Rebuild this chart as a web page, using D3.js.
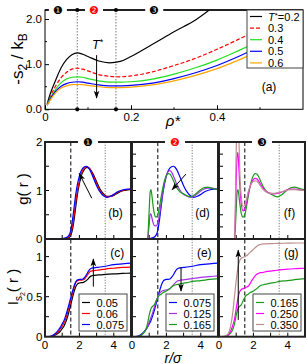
<!DOCTYPE html>
<html><head><meta charset="utf-8">
<script src="https://cdn.jsdelivr.net/npm/d3@7"></script>
<style>body{margin:0;background:#fff}svg{display:block}text{font-family:"Liberation Sans",Arial,sans-serif;fill:#000}</style>
</head><body><svg id="c" width="307" height="364"></svg>
<script>
// ---------- panel (a): -s2/kB vs rho* ----------
const rho = [0.005,0.0125,0.025,0.0375,0.05,0.0625,0.075,0.0875,0.1,0.125,0.15,0.175,0.2,0.25,0.3,0.35,0.4,0.45,0.5,0.55,0.6];
const sT02 = [0.12,0.35,0.65,0.92,1.10,1.21,1.25,1.22,1.17,1.07,1.03,1.06,1.17,1.44,1.72,1.98,2.33,2.7,3.1,3.5,3.9];
const sT03 = [0.10,0.28,0.52,0.70,0.82,0.89,0.91,0.89,0.85,0.77,0.73,0.72,0.74,0.83,0.97,1.13,1.33,1.55,1.78,2.0,2.25];
const sT04 = [0.10,0.25,0.45,0.59,0.67,0.71,0.72,0.71,0.68,0.63,0.60,0.60,0.61,0.67,0.78,0.92,1.09,1.30,1.52,1.75,2.0];
const sT05 = [0.09,0.23,0.40,0.51,0.57,0.60,0.61,0.60,0.58,0.54,0.52,0.52,0.53,0.58,0.68,0.81,0.97,1.17,1.39,1.62,1.86];
const sT06 = [0.09,0.21,0.37,0.47,0.52,0.545,0.55,0.545,0.53,0.50,0.48,0.48,0.49,0.54,0.63,0.75,0.90,1.09,1.30,1.53,1.77];
const tLabels = ["T*=0.2","0.3","0.4","0.5","0.6"];
const regionRho = [0.075, 0.165];
const regionMarks = ["❶","❷","❸"];

// ---------- g(r) ----------
const rG = [0,0.5,0.8,0.9,1.0,1.05,1.1,1.15,1.2,1.3,1.4,1.5,1.6,1.7,1.8,1.9,2.0,2.1,2.2,2.3,2.4,2.5,2.6,2.8,3.0,3.2,3.4,3.6,3.8,4.0,4.2,4.4,4.6,4.8,5.0];
const g050 = [0,0,0,0,0.002,0.003,0.004,0.005,0.007,0.012,0.03,0.08,0.2,0.42,0.7,0.95,1.14,1.29,1.38,1.44,1.47,1.47,1.45,1.34,1.18,1.03,0.93,0.88,0.88,0.9,0.94,0.98,1.0,1.01,1.02];
const g060 = [0,0,0,0,0.004,0.005,0.006,0.008,0.01,0.02,0.05,0.12,0.27,0.52,0.8,1.03,1.2,1.33,1.42,1.47,1.49,1.48,1.45,1.31,1.14,1.0,0.91,0.87,0.88,0.91,0.96,0.99,1.01,1.02,1.03];
const g075 = [0,0,0,0.005,0.01,0.012,0.015,0.02,0.025,0.04,0.08,0.18,0.4,0.68,0.95,1.15,1.3,1.4,1.46,1.49,1.5,1.48,1.43,1.27,1.1,0.97,0.89,0.86,0.88,0.92,0.97,1.0,1.02,1.03,1.03];
const g125 = [0,0,0,0,0.3,0.5,0.52,0.45,0.37,0.28,0.27,0.33,0.5,0.75,0.98,1.18,1.31,1.39,1.41,1.38,1.31,1.22,1.13,1.0,0.92,0.88,0.86,0.88,0.93,0.99,1.03,1.05,1.05,1.04,1.03];
const g165 = [0,0,0,0,0.6,0.95,1.02,0.92,0.76,0.52,0.45,0.5,0.67,0.88,1.07,1.22,1.31,1.35,1.34,1.29,1.21,1.13,1.06,0.97,0.93,0.89,0.87,0.9,0.96,1.02,1.06,1.07,1.05,1.03,1.02];
const g250 = [0,0,0,0,1.2,1.7,1.78,1.5,1.15,0.72,0.58,0.62,0.76,0.93,1.07,1.17,1.23,1.25,1.24,1.2,1.14,1.08,1.03,0.97,0.94,0.93,0.94,0.96,0.99,1.02,1.03,1.03,1.02,1.01,1.0];
const g350 = [0,0,0,0,1.8,2.6,2.7,2.2,1.5,0.85,0.67,0.7,0.82,0.97,1.08,1.15,1.19,1.2,1.19,1.15,1.1,1.05,1.01,0.96,0.94,0.94,0.95,0.97,0.99,1.01,1.02,1.02,1.01,1.0,1.0];

// ---------- I_s2(r) ----------
const rI = [0,0.2,0.4,0.6,0.8,0.9,1.0,1.1,1.2,1.3,1.4,1.5,1.6,1.7,1.8,1.9,2.0,2.1,2.2,2.3,2.4,2.5,2.6,2.7,2.8,3.0,3.2,3.5,4.0,4.5,5.0];
const i050 = [0,0,0.003,0.02,0.05,0.07,0.1,0.13,0.18,0.24,0.32,0.4,0.49,0.57,0.63,0.66,0.67,0.675,0.675,0.685,0.7,0.72,0.745,0.76,0.765,0.77,0.772,0.778,0.785,0.79,0.795];
const i060 = [0,0,0.005,0.03,0.07,0.1,0.13,0.17,0.22,0.29,0.37,0.45,0.54,0.62,0.68,0.7,0.705,0.705,0.71,0.72,0.75,0.78,0.81,0.82,0.825,0.83,0.835,0.845,0.855,0.865,0.87];
const i075 = [0,0,0.01,0.04,0.09,0.12,0.16,0.2,0.26,0.33,0.41,0.49,0.57,0.64,0.69,0.71,0.715,0.715,0.72,0.74,0.77,0.81,0.84,0.855,0.86,0.865,0.87,0.88,0.9,0.91,0.92];
const i125 = [0,0,0.005,0.03,0.08,0.12,0.18,0.24,0.3,0.37,0.44,0.5,0.54,0.565,0.575,0.58,0.585,0.59,0.6,0.62,0.645,0.67,0.69,0.7,0.705,0.71,0.715,0.725,0.74,0.75,0.76];
const i165 = [0,0,0.005,0.03,0.09,0.16,0.27,0.35,0.38,0.4,0.45,0.49,0.52,0.53,0.55,0.56,0.57,0.585,0.6,0.62,0.635,0.645,0.65,0.655,0.66,0.67,0.675,0.69,0.7,0.715,0.725];
const i250 = [0,0,0.005,0.04,0.14,0.22,0.35,0.48,0.56,0.59,0.6,0.61,0.62,0.63,0.66,0.7,0.73,0.76,0.78,0.79,0.8,0.8,0.805,0.81,0.815,0.82,0.825,0.835,0.845,0.85,0.855];
const i350 = [0,0,0.01,0.07,0.3,0.5,0.7,0.86,0.95,0.98,0.99,1.0,1.01,1.03,1.05,1.07,1.09,1.11,1.13,1.145,1.15,1.155,1.16,1.16,1.16,1.162,1.164,1.166,1.168,1.17,1.17];
const densLabels = [["0.05","0.06","0.075"],["0.075","0.125","0.165"],["0.165","0.250","0.350"]];
const panelLetters = [["(b)","(c)"],["(d)","(e)"],["(f)","(g)"]];
const rTicks = [0,1,2,3,4,5];
const rTickLabels = [0,2,4];

const svg = d3.select("#c");
const defs = svg.append("defs");
defs.append("marker").attr("id","ah").attr("viewBox","0 0 10 10").attr("refX",9).attr("refY",5)
  .attr("markerWidth",8).attr("markerHeight",8).attr("markerUnits","userSpaceOnUse").attr("orient","auto")
  .append("path").attr("d","M0,1.5 L10,5 L0,8.5 L2.5,5 z").attr("fill","#000");
function arrow(g,x1,y1,x2,y2){
  g.append("line").attr("x1",x1).attr("y1",y1).attr("x2",x2).attr("y2",y2)
   .attr("stroke","#000").attr("stroke-width",1).attr("marker-end","url(#ah)");
}
function clip(id,x,y,w,h){defs.append("clipPath").attr("id",id).append("rect").attr("x",x).attr("y",y).attr("width",w).attr("height",h);}

// ================= panel (a) =================
const ax = d3.scaleLinear().domain([0,0.6]).range([45,303]);
const ay = d3.scaleLinear().domain([0,2.2]).range([109.3,10]);
clip("ca",45,10,258,99.3);
const pa = svg.append("g");
regionRho.forEach(v=>{
  pa.append("line").attr("x1",ax(v)).attr("x2",ax(v)).attr("y1",ay(2.2)).attr("y2",ay(0))
    .attr("stroke","#777").attr("stroke-width",1).attr("stroke-dasharray","1.5,1.5");
});
const sCols = ["#000","#ff0000","#22e022","#0000ff","#ffa500"];
const sData = [sT02,sT03,sT04,sT05,sT06];
const aline = d3.line().x(d=>ax(d[0])).y(d=>ay(d[1])).curve(d3.curveMonotoneX);
const curvesA = pa.append("g").attr("clip-path","url(#ca)");
sData.forEach((s,i)=>{
  curvesA.append("path").attr("d",aline(d3.zip(rho,s))).attr("fill","none").attr("stroke",sCols[i])
    .attr("stroke-width",1.2).attr("stroke-dasharray",i===1?"4,2":null);
});
pa.append("rect").attr("x",45).attr("y",10).attr("width",258).attr("height",99.3).attr("fill","none").attr("stroke","#000").attr("stroke-width",1);
pa.append("line").attr("x1",45).attr("x2",303).attr("y1",10).attr("y2",10).attr("stroke","#000").attr("stroke-width",1.6);
const axB = pa.append("g").attr("transform","translate(0,109.3)")
  .call(d3.axisBottom(ax).tickValues([0,0.2,0.4]).tickFormat(d3.format("")).tickSizeInner(-4).tickSizeOuter(0).tickPadding(3.5));
axB.select(".domain").remove();
axB.selectAll("text").attr("font-size",11.5).attr("font-family","Liberation Sans, Arial");
const axL = pa.append("g").attr("transform","translate(45,0)")
  .call(d3.axisLeft(ay).tickValues([0,1,2]).tickSizeInner(-4).tickSizeOuter(0).tickPadding(3));
axL.select(".domain").remove();
axL.selectAll("text").attr("font-size",11.5).attr("font-family","Liberation Sans, Arial");
[0.1,0.3,0.5].forEach(v=>pa.append("line").attr("x1",ax(v)).attr("x2",ax(v)).attr("y1",ay(0)).attr("y2",ay(0)-2).attr("stroke","#000"));
[0.5,1.5].forEach(v=>pa.append("line").attr("x1",45).attr("x2",47).attr("y1",ay(v)).attr("y2",ay(v)).attr("stroke","#000"));
regionRho.forEach(v=>{
  [ay(2.2),ay(0)].forEach(yy=>pa.append("circle").attr("cx",ax(v)).attr("cy",yy).attr("r",2.1).attr("fill","#000"));
});
const markX = [0.03,0.114,0.254];
markX.forEach((v,i)=>{
  pa.append("rect").attr("x",ax(v)-9).attr("y",6).attr("width",18).attr("height",8).attr("fill","#fff");
  pa.append("text").attr("x",ax(v)).attr("y",14).attr("text-anchor","middle").attr("font-size",11)
    .attr("font-family","DejaVu Sans").style("fill",i===1?"#ff0000":"#000").text(regionMarks[i]);
});
// legend
pa.append("rect").attr("x",247).attr("y",10).attr("width",56).attr("height",58).attr("fill","#fff").attr("stroke","#444").attr("stroke-width",1);
tLabels.forEach((t,i)=>{
  const yy = 16.5 + i*11.6;
  pa.append("line").attr("x1",250).attr("x2",262).attr("y1",yy).attr("y2",yy).attr("stroke",sCols[i]).attr("stroke-width",1.2)
    .attr("stroke-dasharray",i===1?"4,2":null);
  const tx = pa.append("text").attr("x",268).attr("y",yy+4).attr("font-size",11);
  if(i===0){
    tx.append("tspan").attr("font-style","italic").text("T");
    tx.append("tspan").attr("dy",-3).attr("font-size",8).text("*");
    tx.append("tspan").attr("dy",3).text("=0.2");
  } else tx.text(t);
});
pa.append("text").attr("x",269).attr("y",91).attr("text-anchor","middle").attr("font-size",12).text("(a)");
arrow(pa,ax(0.12),ay(1.2),ax(0.12),ay(0.25));
const tt = pa.append("text").attr("x",ax(0.12)+1).attr("y",ay(1.43)+4).attr("text-anchor","middle").attr("font-size",12.5);
tt.append("tspan").attr("font-style","italic").text("T");
tt.append("tspan").attr("dy",-4).attr("font-size",9).text("*");
const ylA = svg.append("text").attr("transform","translate(23,59) rotate(-90)").attr("text-anchor","middle").attr("font-size",17);
ylA.append("tspan").text("-s");
ylA.append("tspan").attr("dy",4).attr("font-size",12).text("2");
ylA.append("tspan").attr("dy",-4).text(" / k");
ylA.append("tspan").attr("dy",4).attr("font-size",12).text("B");
svg.append("text").attr("x",173).attr("y",126).attr("text-anchor","middle").attr("font-size",15).attr("font-style","italic").text("ρ*");

// ================= bottom panels =================
const colX = [45,132,219];
const colW = 86;
const gy = d3.scaleLinear().domain([0,2]).range([239,142]);
const iy = d3.scaleLinear().domain([0,1.22]).range([336.7,239]);
const gSets = [[[g050,"#000"],[g060,"#ff0000"],[g075,"#0000ff"]],
               [[g075,"#0000ff"],[g125,"#a630e6"],[g165,"#1c9a1c"]],
               [[g165,"#1c9a1c"],[g250,"#ff00ff"],[g350,"#bc8f8f"]]];
const iSets = [[[i050,"#000"],[i060,"#ff0000"],[i075,"#0000ff"]],
               [[i075,"#0000ff"],[i125,"#a630e6"],[i165,"#1c9a1c"]],
               [[i165,"#1c9a1c"],[i250,"#ff00ff"],[i350,"#bc8f8f"]]];
colX.forEach((x0,c)=>{
  const rx = d3.scaleLinear().domain([0,5]).range([x0,x0+colW]);
  const p = svg.append("g");
  p.append("line").attr("x1",rx(1.5)).attr("x2",rx(1.5)).attr("y1",142).attr("y2",336.7).attr("stroke","#000").attr("stroke-width",1).attr("stroke-dasharray","4,2.5");
  p.append("line").attr("x1",rx(3.5)).attr("x2",rx(3.5)).attr("y1",142).attr("y2",336.7).attr("stroke","#777").attr("stroke-width",1).attr("stroke-dasharray","1.2,1.5");
  clip("cg"+c,x0,142,colW,97); clip("ci"+c,x0,239,colW,97.7);
  const gl = d3.line().x(d=>rx(d[0])).y(d=>gy(d[1])).curve(d3.curveMonotoneX);
  const il = d3.line().x(d=>rx(d[0])).y(d=>iy(d[1])).curve(d3.curveMonotoneX);
  const cg = p.append("g").attr("clip-path","url(#cg"+c+")");
  gSets[c].forEach(([arr,col])=>cg.append("path").attr("d",gl(d3.zip(rG,arr))).attr("fill","none").attr("stroke",col).attr("stroke-width",1.2));
  const ci = p.append("g").attr("clip-path","url(#ci"+c+")");
  iSets[c].forEach(([arr,col])=>ci.append("path").attr("d",il(d3.zip(rI,arr))).attr("fill","none").attr("stroke",col).attr("stroke-width",1.2));
  rTicks.forEach(v=>{
    [239,336.7].forEach(yy=>p.append("line").attr("x1",rx(v)).attr("x2",rx(v)).attr("y1",yy).attr("y2",yy-4).attr("stroke","#000"));
  });
  const gStep = c===0?[0,0.5,1,1.5,2]:[0.25,0.5,0.75,1,1.25,1.5,1.75];
  gStep.forEach(v=>p.append("line").attr("x1",x0).attr("x2",x0+4).attr("y1",gy(v)).attr("y2",gy(v)).attr("stroke","#000"));
  [0.25,0.5,0.75,1].forEach(v=>p.append("line").attr("x1",x0).attr("x2",x0+4).attr("y1",iy(v)).attr("y2",iy(v)).attr("stroke","#000"));
  p.append("rect").attr("x",x0).attr("y",142).attr("width",colW).attr("height",194.7).attr("fill","none").attr("stroke","#222").attr("stroke-width",2);
  p.append("line").attr("x1",x0).attr("x2",x0+colW).attr("y1",239).attr("y2",239).attr("stroke","#222").attr("stroke-width",2);
  rTickLabels.forEach(v=>p.append("text").attr("x",rx(v)).attr("y",349).attr("text-anchor","middle").attr("font-size",11.5).text(v));
  p.append("rect").attr("x",x0+colW/2-10).attr("y",137).attr("width",20).attr("height",10).attr("fill","#fff");
  p.append("text").attr("x",x0+colW/2).attr("y",146).attr("text-anchor","middle").attr("font-size",11)
    .attr("font-family","DejaVu Sans").style("fill",c===1?"#ff0000":"#000").text(regionMarks[c]);
  p.append("text").attr("x",rx(4.1)).attr("y",gy(0.45)).attr("text-anchor","middle").attr("font-size",12).text(panelLetters[c][0]);
  p.append("text").attr("x",rx(4.2)).attr("y",iy(1.0)).attr("text-anchor","middle").attr("font-size",12).text(panelLetters[c][1]);
  const lg = p.append("g");
  lg.append("rect").attr("x",x0+34).attr("y",294).attr("width",48).attr("height",37).attr("fill","#fff").attr("stroke","#444").attr("stroke-width",1);
  densLabels[c].forEach((t,k)=>{
    const yy = 302.5 + k*11;
    lg.append("line").attr("x1",x0+37).attr("x2",x0+45).attr("y1",yy).attr("y2",yy).attr("stroke",iSets[c][k][1]).attr("stroke-width",1.2);
    lg.append("text").attr("x",x0+51.5).attr("y",yy+4).attr("font-size",11).text(t);
  });
  if(c===0){
    arrow(p,rx(2.72),gy(0.84),rx(1.99),gy(1.35));
    arrow(p,rx(2.81),iy(0.625),rx(2.81),iy(0.97));
  } else if(c===1){
    arrow(p,rx(3.14),gy(1.34),rx(2.34),gy(1.02));
    arrow(p,rx(2.85),iy(0.87),rx(2.85),iy(0.57));
  } else {
    arrow(p,rx(1.12),iy(0.21),rx(1.12),iy(1.08));
  }
});
[[0,"0"],[1,"1"],[2,"2"]].forEach(([v,t])=>svg.append("text").attr("x",42.5).attr("y",gy(v)+4).attr("text-anchor","end").attr("font-size",11.5).text(t));
[[0,"0"],[0.5,"0.5"],[1,"1"]].forEach(([v,t])=>svg.append("text").attr("x",42.5).attr("y",iy(v)+4).attr("text-anchor","end").attr("font-size",11.5).text(t));
const ylg = svg.append("text").attr("transform","translate(28,189) rotate(-90)").attr("text-anchor","middle").attr("font-size",15);
ylg.text("g( r )");
const yli = svg.append("text").attr("transform","translate(18,287) rotate(-90)").attr("text-anchor","middle").attr("font-size",15);
yli.append("tspan").text("I");
yli.append("tspan").attr("dy",4).attr("font-size",10).text("s");
yli.append("tspan").attr("dy",3).attr("font-size",7).text("2");
yli.append("tspan").attr("dy",-7).text("( r )");
svg.append("text").attr("x",173).attr("y",362.5).attr("text-anchor","middle").attr("font-size",14).attr("font-style","italic").text("r/σ");
</script></body></html>
